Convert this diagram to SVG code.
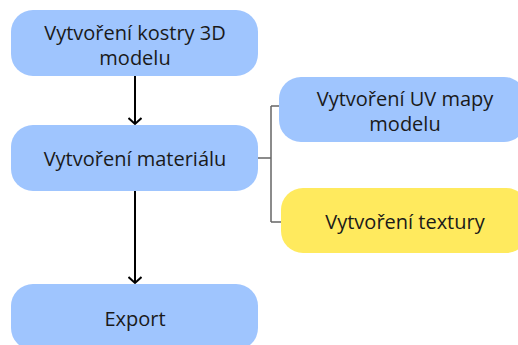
<svg xmlns="http://www.w3.org/2000/svg" width="518" height="345" viewBox="0 0 518 345">
<style>
.blue{fill:#9fc5fe}
.yellow{fill:#ffea5e}
text{font-family:"Open Sans","Noto Sans",sans-serif;font-size:20px;fill:#1a1a1a;text-anchor:middle;dominant-baseline:central}
.arrow{stroke:#000;stroke-width:2;fill:none}
.bracket{stroke:#666;stroke-width:1.5;fill:none}
</style>
<defs>
<marker id="ah" markerWidth="14" markerHeight="14" refX="10" refY="7" orient="auto" markerUnits="userSpaceOnUse" viewBox="0 0 14 14">
<path d="M4,0.5 L10,7 L4,13.5" stroke="#000" stroke-width="2" fill="none"/>
</marker>
</defs>
<rect width="518" height="345" fill="#fff"/>
<g id="connectors">
<path class="arrow" d="M135,76 V124" marker-end="url(#ah)"/>
<path class="arrow" d="M135,191 V283" marker-end="url(#ah)"/>
<path class="bracket" d="M258,158 H271 M271,106 V222 M271,106 H280 M271,222 H282"/>
</g>
<g id="n1"><rect class="blue" x="11" y="10" width="247" height="66" rx="22"/><text x="135" y="32">Vytvoření kostry 3D</text><text x="135" y="57">modelu</text></g>
<g id="n2"><rect class="blue" x="11" y="125" width="247" height="66" rx="22"/><text x="135" y="158">Vytvoření materiálu</text></g>
<g id="n3"><rect class="blue" x="11" y="284" width="247" height="66" rx="22"/><text x="135" y="318">Export</text></g>
<g id="n4"><rect class="blue" x="279" y="77" width="247" height="65" rx="22"/><text x="405" y="98">Vytvoření UV mapy</text><text x="405" y="123">modelu</text></g>
<g id="n5"><rect class="yellow" x="281" y="188" width="247" height="65" rx="22"/><text x="405" y="221">Vytvoření textury</text></g>
</svg>
